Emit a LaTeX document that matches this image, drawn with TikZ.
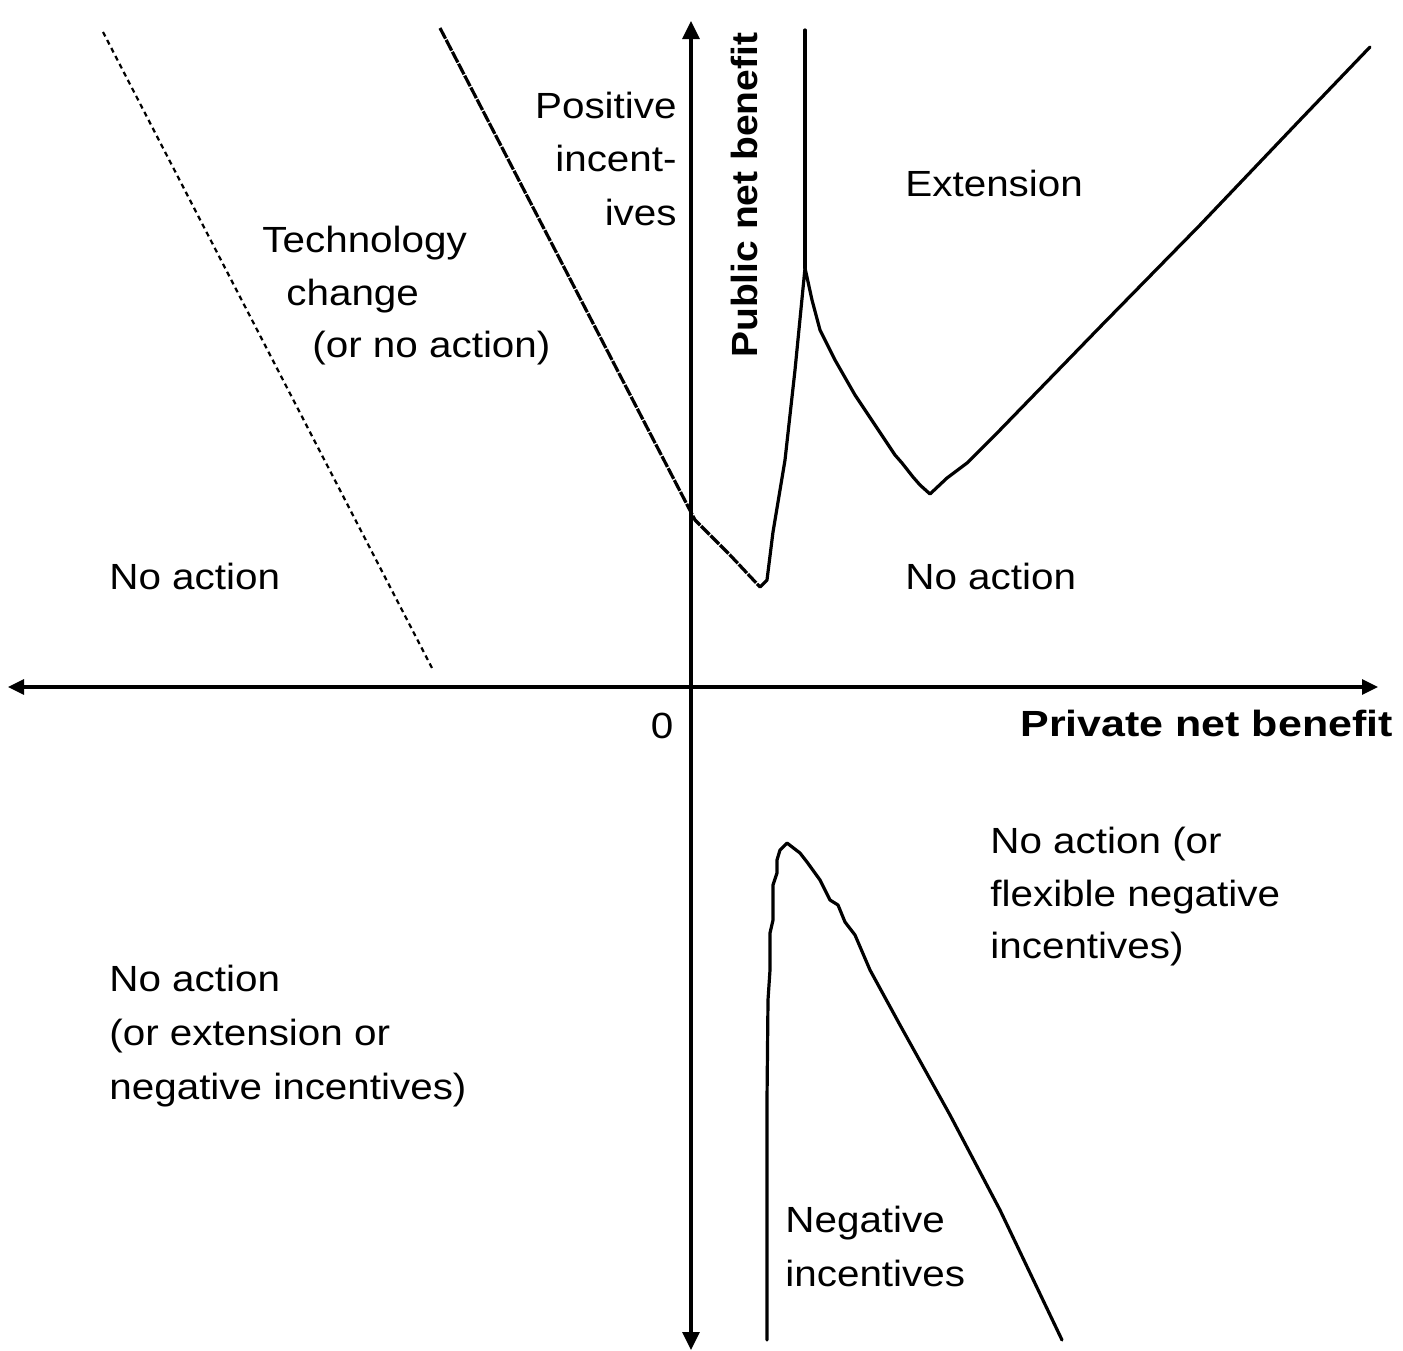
\documentclass[tikz,border=0pt]{standalone}
\usepackage{fontspec}
\setmainfont{Liberation Sans}[FakeStretch=1.11]
\newfontfamily\boldA{Liberation Sans}[FakeStretch=1.18]
\newfontfamily\boldB{Liberation Sans}[FakeStretch=1.07]
\usetikzlibrary{arrows.meta}
\begin{document}
\begin{tikzpicture}[x=0.5pt,y=-0.5pt,
  lbl/.style={inner sep=0pt,font=\fontsize{18.2}{27}\selectfont},
  axis/.style={line width=1.6pt},
  curve/.style={line width=1.6pt,line join=round,line cap=round},
  vtip/.style={-{Triangle[length=9pt,width=8.5pt]}},
  htip/.style={{Triangle[length=8pt,width=7.5pt]}-{Triangle[length=8pt,width=7.5pt]}}]
\useasboundingbox (0,0) rectangle (1403,1350);
% axes
\coordinate (xl) at (8,687);
\coordinate (xr) at (1378,687);
\coordinate (yc) at (691,687);
\coordinate (yt) at (691,21);
\coordinate (yb) at (691,1350);
\draw[axis,htip] (xl) -- (xr);
\draw[axis,vtip] (yc) -- (yt);
\draw[axis,vtip] (yc) -- (yb);
% vertical line to peak
\coordinate (vtop) at (805,30);
\coordinate (peak) at (805,268);
\draw[curve] (vtop) -- (peak);
% upper solid curve
\coordinate (kink) at (760,587);
\coordinate (vmin) at (930,494);
\coordinate (ur) at (1370,47);
\draw[curve] (kink) -- (767,580) -- (773,532) -- (780,490) -- (785,460) -- (795,370) -- (peak)
  -- (812,300) -- (820,330) -- (835,360) -- (855,395) -- (875,425) -- (895,455) -- (902,463)
  -- (913,477) -- (920,485) -- (vmin) -- (947,478) -- (967,463) -- (1000,430) -- (1100,327)
  -- (1200,225) -- (1300,120) -- (ur);
% long nearly-solid dashed line
\coordinate (dtop) at (440,28);
\coordinate (dknee) at (695,520);
\draw[curve,line cap=butt,dash pattern=on 6pt off 0.7pt] (dtop) -- (dknee) -- (730,555) -- (kink);
% dotted line
\coordinate (ptop) at (103,32);
\coordinate (pbot) at (432,668);
\draw[line width=1.1pt,dash pattern=on 2.5pt off 2pt] (ptop) -- (pbot);
% lower curve
\coordinate (lb) at (767,1340);
\coordinate (lpeak) at (787,843);
\coordinate (lr) at (1062,1340);
\draw[curve] (lb) -- (767,1100) -- (768,1000) -- (770,970) -- (770,933) -- (773,920) -- (773,885)
  -- (777,873) -- (777,860) -- (780,850) -- (lpeak) -- (800,853) -- (807,862) -- (820,880)
  -- (830,900) -- (838,905) -- (845,922) -- (855,935) -- (870,970) -- (900,1025) -- (950,1115)
  -- (1000,1210) -- (lr);
% labels
\node[lbl,anchor=base east] (pos1) at (677,118) {Positive};
\node[lbl,anchor=base east] (pos2) at (677,171) {incent-};
\node[lbl,anchor=base east] (pos3) at (677,225) {ives};
\node[lbl,anchor=base west] (tc1) at (262,252) {Technology};
\node[lbl,anchor=base west] (tc2) at (286,305) {change};
\node[lbl,anchor=base west] (tc3) at (312,357) {(or no action)};
\node[lbl,anchor=base west] (ext) at (905,196) {Extension};
\node[lbl,anchor=base west] (na1) at (109,589) {No action};
\node[lbl,anchor=base west] (na2) at (905,589) {No action};
\node[lbl,anchor=base] (zero) at (662,738) {0};
\node[lbl,anchor=base west,font=\fontsize{18.2}{27}\boldA\bfseries] (pnb) at (1020,736) {Private net benefit};
\node[lbl,anchor=base west,rotate=90,font=\fontsize{18.2}{27}\boldB\bfseries] (pub) at (757,358) {Public net benefit};
\node[lbl,anchor=base west] (fl1) at (990,853) {No action (or};
\node[lbl,anchor=base west] (fl2) at (990,906) {flexible negative};
\node[lbl,anchor=base west] (fl3) at (990,958) {incentives)};
\node[lbl,anchor=base west] (ll1) at (109,991) {No action};
\node[lbl,anchor=base west] (ll2) at (109,1045) {(or extension or};
\node[lbl,anchor=base west] (ll3) at (109,1099) {negative incentives)};
\node[lbl,anchor=base west] (ng1) at (785,1232) {Negative};
\node[lbl,anchor=base west] (ng2) at (785,1286) {incentives};
\end{tikzpicture}
\end{document}
